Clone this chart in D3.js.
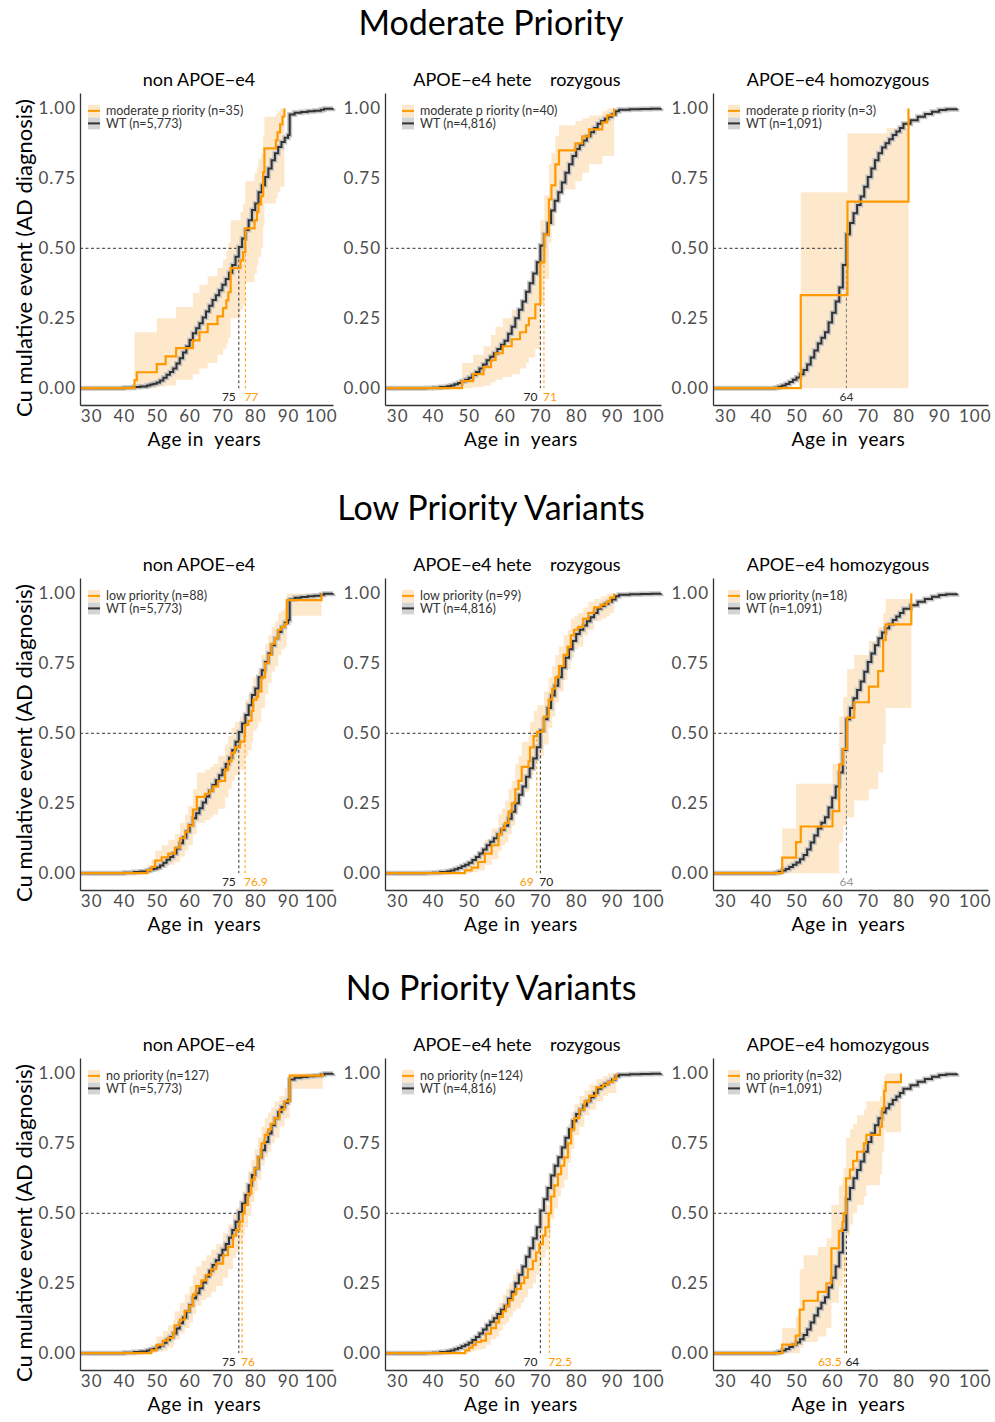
<!DOCTYPE html>
<html>
<head>
<meta charset="utf-8">
<script src="https://cdn.jsdelivr.net/npm/d3@7"></script>
<style>
  body { margin: 0; background: white; }
  svg { font-family: Lato, "Open Sans", sans-serif; }
</style>
</head>
<body>
<div id="chart"></div>
<script>
// ---- labels ----
const rowTitles = ["Moderate Priority", "Low Priority Variants", "No Priority Variants"];
const colTitles = ["non APOE\u2212e4", "APOE\u2212e4 hete\u00a0\u00a0\u00a0 rozygous", "APOE\u2212e4 homozygous"];
const variantNames = ["moderate p riority", "low priority", "no priority"];
const variantN = [[35, 40, 3], [88, 99, 18], [127, 124, 32]];
const wtN = ["5,773", "4,816", "1,091"];
const yTicks = [0, 0.25, 0.5, 0.75, 1];
const xTicks = [30, 40, 50, 60, 70, 80, 90, 100];
const xTitle = "Age in\u00a0 years";
const yTitle = "Cu mulative event (AD diagnosis)";

// medians [row][col]
const wtMedians = [[75, 70, 64], [75, 70, 64], [75, 70, 64]];
const varMedians = [[77, 71, 64], [76.9, 69, 64], [76, 72.5, 63.5]];

// ---- WT curves: [age, cumulative] ----
const wtNonE4 = [[40,0.002],[43,0.004],[45,0.006],[47,0.01],[48,0.013],[49,0.016],[50,0.02],[51,0.028],[52,0.037],[53,0.048],[54,0.058],[55,0.07],[56,0.088],[57,0.107],[58,0.128],[59,0.149],[60,0.172],[61,0.196],[62,0.214],[63,0.232],[64,0.253],[65,0.274],[66,0.295],[67,0.315],[68,0.332],[69,0.35],[70,0.37],[71,0.39],[72,0.413],[73,0.44],[74,0.47],[75,0.505],[76,0.535],[77,0.565],[78,0.6],[79,0.637],[80,0.66],[81,0.7],[82,0.725],[83,0.755],[84,0.785],[85,0.815],[86,0.84],[87,0.862],[88,0.88],[89,0.895],[90,0.905],[90.5,0.978],[92,0.984],[94,0.987],[96,0.99],[98,0.992],[100,0.995],[101,0.999],[103.7,1.0]];
const wtHet = [[38,0.001],[40,0.002],[42,0.004],[44,0.007],[45,0.01],[46,0.014],[47,0.019],[48,0.025],[49,0.03],[50,0.037],[51,0.047],[52,0.058],[53,0.07],[54,0.085],[55,0.1],[56,0.112],[57,0.125],[58,0.14],[59,0.155],[60,0.17],[61,0.195],[62,0.22],[63,0.25],[64,0.28],[65,0.31],[66,0.345],[67,0.375],[68,0.41],[69,0.45],[70,0.51],[71,0.55],[72,0.59],[73,0.635],[74,0.67],[75,0.7],[76,0.735],[77,0.77],[78,0.8],[79,0.83],[80,0.855],[81,0.87],[82,0.885],[83,0.9],[84,0.915],[85,0.93],[86,0.945],[87,0.955],[88,0.963],[89,0.97],[90,0.978],[91,0.99],[92,0.995],[95,0.997],[98,0.998],[101,0.999],[103.7,1.0]];
const wtHom = [[44,0.002],[45,0.005],[46,0.01],[47,0.015],[48,0.022],[49,0.03],[50,0.038],[51,0.05],[52,0.065],[53,0.085],[54,0.11],[55,0.135],[56,0.16],[57,0.18],[58,0.2],[59,0.235],[60,0.27],[61,0.31],[62,0.36],[63,0.44],[64,0.55],[65,0.59],[66,0.625],[67,0.655],[68,0.685],[69,0.72],[70,0.755],[71,0.785],[72,0.815],[73,0.84],[74,0.86],[75,0.875],[76,0.89],[77,0.905],[78,0.917],[79,0.93],[80,0.945],[82,0.958],[84,0.97],[86,0.98],[88,0.988],[90,0.994],[92,0.997],[95,1.0]];

// ---- variant curves: [age, estimate, lower, upper] ----
const modNon = [[43.2,0.029,0,0.2],[43.9,0.057,0,0.2],[50.0,0.086,0.005,0.25],[52.7,0.114,0.01,0.25],[55.9,0.143,0.03,0.29],[61.0,0.171,0.05,0.34],[63.0,0.2,0.07,0.37],[65.5,0.229,0.09,0.4],[68.5,0.257,0.12,0.43],[70.2,0.286,0.14,0.46],[71.2,0.314,0.16,0.49],[71.8,0.343,0.18,0.52],[72.5,0.429,0.25,0.6],[75.5,0.457,0.28,0.63],[76.3,0.486,0.3,0.66],[77.0,0.571,0.38,0.74],[79.8,0.6,0.41,0.77],[80.5,0.629,0.44,0.79],[81.0,0.657,0.47,0.82],[81.8,0.686,0.5,0.84],[82.4,0.771,0.58,0.9],[82.8,0.857,0.66,0.97],[86.3,0.886,0.68,0.98],[86.8,0.914,0.7,0.99],[87.6,0.943,0.72,1.0],[88.3,0.971,0.72,1.0],[88.9,1.0,1,1]];
const modHet = [[48.1,0.025,0,0.09],[51.2,0.05,0.003,0.12],[54.1,0.075,0.01,0.15],[56.2,0.1,0.02,0.19],[57.5,0.125,0.03,0.22],[59.5,0.15,0.04,0.25],[62.0,0.175,0.05,0.28],[64.3,0.2,0.07,0.31],[66.0,0.225,0.09,0.34],[66.8,0.25,0.11,0.37],[68.6,0.3,0.14,0.43],[70.0,0.45,0.3,0.6],[71.1,0.55,0.39,0.69],[72.4,0.675,0.52,0.8],[73.1,0.725,0.58,0.84],[74.2,0.8,0.66,0.9],[75.2,0.85,0.71,0.94],[79.8,0.875,0.74,0.955],[81.7,0.9,0.77,0.965],[83.6,0.925,0.8,0.975],[87.3,0.95,0.83,0.99],[88.7,0.975,0.83,1.0],[90.6,1.0,1,1]];
const modHom = [[51.2,0.333,0,0.7],[64.3,0.667,0,0.91],[75.3,0.667,0,0.93],[81.4,1.0,1,1]];
const lowNon = [[47.1,0.011,0,0.03],[48.4,0.023,0.005,0.05],[49.5,0.045,0.01,0.08],[51.5,0.057,0.02,0.1],[53.5,0.07,0.03,0.12],[55.5,0.091,0.04,0.14],[57.1,0.125,0.06,0.18],[58.6,0.148,0.08,0.21],[59.6,0.17,0.1,0.24],[61.0,0.227,0.14,0.3],[62.2,0.273,0.18,0.36],[64.7,0.284,0.19,0.37],[66.2,0.295,0.2,0.38],[67.2,0.31,0.21,0.39],[68.7,0.33,0.23,0.42],[70.8,0.37,0.27,0.46],[71.8,0.4,0.3,0.49],[72.8,0.43,0.33,0.52],[73.8,0.45,0.35,0.54],[75.4,0.47,0.37,0.56],[76.7,0.49,0.39,0.58],[76.9,0.53,0.42,0.62],[77.9,0.545,0.44,0.64],[78.9,0.58,0.47,0.67],[79.4,0.62,0.51,0.7],[80.4,0.63,0.52,0.71],[80.9,0.65,0.54,0.73],[81.9,0.7,0.59,0.78],[83.0,0.75,0.64,0.82],[84.0,0.78,0.68,0.85],[85.0,0.82,0.72,0.88],[86.0,0.84,0.74,0.9],[87.0,0.87,0.78,0.93],[88.0,0.88,0.8,0.94],[89.1,0.89,0.81,0.95],[89.6,0.976,0.92,1.0],[100.2,1.0,1,1]];
const lowHet = [[48.9,0.01,0,0.03],[50.8,0.02,0.003,0.05],[52.6,0.04,0.01,0.08],[54.5,0.07,0.03,0.12],[56.4,0.1,0.05,0.16],[58.3,0.14,0.08,0.21],[59.2,0.16,0.1,0.23],[60.1,0.18,0.11,0.26],[61.1,0.22,0.14,0.3],[62.0,0.25,0.17,0.33],[63.0,0.3,0.21,0.39],[63.9,0.33,0.24,0.42],[64.8,0.38,0.29,0.47],[66.7,0.4,0.3,0.49],[67.1,0.45,0.35,0.54],[68.1,0.49,0.39,0.58],[69.1,0.505,0.41,0.6],[70.5,0.51,0.42,0.6],[71.0,0.56,0.46,0.65],[72.3,0.62,0.52,0.7],[73.3,0.66,0.56,0.74],[74.2,0.7,0.61,0.78],[75.2,0.74,0.65,0.81],[76.5,0.78,0.69,0.85],[77.6,0.81,0.73,0.87],[78.5,0.85,0.77,0.91],[79.4,0.87,0.8,0.92],[80.5,0.88,0.81,0.93],[82.0,0.91,0.85,0.95],[83.4,0.93,0.87,0.97],[85.0,0.95,0.9,0.98],[87.0,0.96,0.91,0.99],[88.5,0.97,0.92,1.0],[89.5,0.985,0.93,1.0],[90.6,1.0,1,1]];
const lowHom = [[46.0,0.056,0,0.16],[49.9,0.111,0,0.32],[51.2,0.167,0,0.32],[60.1,0.222,0,0.39],[62.0,0.389,0.11,0.56],[63.1,0.444,0.17,0.63],[64.2,0.556,0.2,0.73],[66.2,0.611,0.26,0.78],[70.3,0.667,0.3,0.83],[72.9,0.722,0.36,0.88],[74.3,0.833,0.46,0.93],[75.0,0.889,0.59,0.98],[82.2,1.0,1,1]];
const noNon = [[48.3,0.01,0,0.03],[49.9,0.03,0.005,0.06],[51.9,0.045,0.01,0.08],[53.4,0.055,0.02,0.1],[55.0,0.07,0.03,0.12],[55.4,0.1,0.05,0.15],[57.0,0.12,0.07,0.18],[58.5,0.15,0.09,0.21],[60.0,0.17,0.11,0.24],[61.0,0.21,0.14,0.28],[62.0,0.24,0.17,0.31],[63.6,0.26,0.19,0.33],[65.1,0.28,0.2,0.35],[66.6,0.3,0.22,0.37],[68.1,0.32,0.24,0.39],[70.2,0.35,0.27,0.43],[71.7,0.38,0.3,0.46],[73.2,0.42,0.34,0.5],[74.2,0.44,0.36,0.52],[75.2,0.47,0.39,0.55],[76.2,0.5,0.42,0.58],[76.8,0.53,0.45,0.61],[77.8,0.57,0.49,0.65],[78.8,0.62,0.54,0.69],[79.8,0.66,0.58,0.73],[80.8,0.7,0.62,0.77],[81.9,0.75,0.67,0.81],[82.9,0.78,0.7,0.84],[83.9,0.8,0.72,0.86],[84.9,0.82,0.75,0.88],[85.9,0.84,0.77,0.9],[87.4,0.87,0.81,0.92],[88.9,0.9,0.84,0.95],[90.5,0.992,0.945,1.0],[100.6,1.0,1,1]];
const noHet = [[49.0,0.01,0,0.03],[50.1,0.02,0.003,0.045],[51.1,0.03,0.008,0.06],[52.0,0.04,0.012,0.07],[53.4,0.045,0.015,0.08],[54.8,0.07,0.03,0.11],[56.2,0.09,0.05,0.14],[57.6,0.11,0.06,0.16],[58.5,0.13,0.08,0.18],[59.5,0.15,0.1,0.21],[60.4,0.17,0.11,0.23],[61.3,0.19,0.13,0.25],[62.3,0.21,0.15,0.28],[63.2,0.23,0.16,0.3],[64.6,0.25,0.18,0.32],[65.5,0.27,0.2,0.34],[66.5,0.3,0.23,0.38],[67.9,0.33,0.25,0.41],[68.8,0.36,0.28,0.44],[69.7,0.39,0.31,0.47],[70.7,0.42,0.34,0.5],[71.4,0.45,0.37,0.53],[72.3,0.5,0.42,0.58],[73.0,0.56,0.48,0.64],[73.9,0.6,0.52,0.68],[74.9,0.64,0.56,0.71],[75.8,0.67,0.59,0.74],[76.7,0.7,0.62,0.77],[77.7,0.75,0.68,0.82],[78.6,0.8,0.73,0.86],[79.5,0.84,0.78,0.89],[80.9,0.87,0.81,0.92],[82.3,0.9,0.85,0.94],[83.7,0.92,0.87,0.96],[85.6,0.95,0.9,0.98],[87.5,0.96,0.92,0.99],[88.9,0.97,0.93,1.0],[90.3,0.98,0.93,1.0],[91.2,1.0,1,1]];
const noHom = [[46.0,0.031,0,0.09],[49.8,0.0625,0,0.13],[50.9,0.156,0.02,0.3],[52.0,0.1875,0.04,0.35],[56.0,0.219,0.06,0.38],[58.4,0.25,0.09,0.41],[59.8,0.375,0.18,0.53],[61.9,0.4375,0.24,0.6],[62.9,0.469,0.27,0.63],[63.2,0.5,0.3,0.66],[63.9,0.625,0.42,0.77],[65.0,0.656,0.46,0.8],[65.9,0.6875,0.5,0.82],[67.0,0.72,0.53,0.85],[68.9,0.75,0.56,0.87],[69.6,0.78,0.6,0.9],[73.4,0.81,0.64,0.92],[74.0,0.875,0.72,0.96],[74.6,0.9375,0.8,0.99],[75.0,0.969,0.79,1.0],[79.3,1.0,1,1]];

const wtCurves = [wtNonE4, wtHet, wtHom];
const variantCurves = [[modNon, modHet, modHom], [lowNon, lowHet, lowHom], [noNon, noHet, noHom]];

// ---- layout / style ----
const width = 995, height = 1422;
const orange = "#ff9900", ribbon = "#fee8cc", dark = "#333333";
const colX = [[80, 333], [385, 661], [713, 988]];
const titleX = [199, 517, 838];
const legendDx = [8, 17, 15];
const rowOffset = [0, 485, 965];
const tieColor = ["#333", "#999", "#333"];
const ageDomain = [26.6, 103.7];

const svg = d3.select("#chart").append("svg")
  .attr("width", width).attr("height", height)
  .style("background", "white");

rowTitles.forEach((t, r) => {
  svg.append("text")
    .attr("x", 491).attr("y", 35 + rowOffset[r])
    .attr("text-anchor", "middle")
    .style("font-size", "34px")
    .text(t);
});

for (let r = 0; r < 3; r++) {
  for (let c = 0; c < 3; c++) {
    drawPanel(r, c);
  }
}

function drawPanel(r, c) {
  const off = rowOffset[r];
  const x = d3.scaleLinear().domain(ageDomain).range(colX[c]);
  const y = d3.scaleLinear().domain([-0.06, 1.055]).range([405 + off, 93 + off]);
  const g = svg.append("g");

  const stepLine = d3.line().curve(d3.curveStepAfter)
    .x(d => x(d[0])).y(d => y(d[1]));
  const band = d3.area().curve(d3.curveStepAfter)
    .x(d => x(d[0])).y0(d => y(d[2])).y1(d => y(d[3]));

  const variant = variantCurves[r][c];
  const wt = wtCurves[c];

  // confidence ribbon
  g.append("path").datum(variant)
    .attr("d", band)
    .attr("fill", ribbon);

  // median guides
  const wm = wtMedians[r][c], vm = varMedians[r][c];
  const dash = "3,2.5";
  g.append("line")
    .attr("x1", x.range()[0]).attr("x2", x(Math.max(wm, vm)))
    .attr("y1", y(0.5)).attr("y2", y(0.5))
    .attr("stroke", dark).attr("stroke-dasharray", dash).attr("stroke-width", 1);

  const labY = y(0) + 12.5;
  if (wm === vm) {
    g.append("line")
      .attr("x1", x(wm)).attr("x2", x(wm)).attr("y1", y(0.5)).attr("y2", y(0))
      .attr("stroke", "#777").attr("stroke-dasharray", dash);
    g.append("text").attr("x", x(wm)).attr("y", labY)
      .attr("text-anchor", "middle").style("font-size", "12px")
      .attr("fill", tieColor[r]).text(wm);
  } else {
    const marks = [{ v: wm, col: dark }, { v: vm, col: orange }].sort((a, b) => a.v - b.v);
    marks.forEach((m, i) => {
      g.append("line")
        .attr("x1", x(m.v)).attr("x2", x(m.v)).attr("y1", y(0.5)).attr("y2", y(0))
        .attr("stroke", m.col).attr("stroke-dasharray", dash);
      g.append("text")
        .attr("x", i === 0 ? x(m.v) - 3 : x(m.v) - 1).attr("y", labY)
        .attr("text-anchor", i === 0 ? "end" : "start")
        .style("font-size", "12px")
        .attr("fill", m.col === dark ? "#222" : orange)
        .text(m.v);
    });
  }

  // WT curve with its narrow grey band
  const wtPts = [[ageDomain[0], 0]].concat(wt);
  g.append("path").datum(wtPts).attr("d", stepLine)
    .attr("fill", "none").attr("stroke", "#c4c4c4").attr("stroke-width", 5);
  g.append("path").datum(wtPts).attr("d", stepLine)
    .attr("fill", "none").attr("stroke", dark).attr("stroke-width", 2);

  // variant curve
  const varPts = [[ageDomain[0], 0]].concat(variant.map(d => [d[0], d[1]]));
  g.append("path").datum(varPts).attr("d", stepLine)
    .attr("fill", "none").attr("stroke", orange).attr("stroke-width", 2.2);

  // axes
  const yAxis = g.append("g")
    .attr("transform", `translate(${colX[c][0]},0)`)
    .call(d3.axisLeft(y).tickValues(yTicks).tickFormat(d3.format(".2f")).tickSize(0).tickPadding(4));
  const xAxis = g.append("g")
    .attr("transform", `translate(0,${405 + off})`)
    .call(d3.axisBottom(x).tickValues(xTicks).tickSize(0).tickPadding(5));
  [yAxis, xAxis].forEach(a => {
    a.select(".domain").attr("stroke", dark).attr("stroke-width", 1.3);
    a.selectAll("text").attr("fill", "#4d4d4d").style("font-size", "17px")
      .style("letter-spacing", "1px")
      .style("font-family", "Lato, 'Open Sans', sans-serif");
  });

  // titles
  g.append("text")
    .attr("x", titleX[c]).attr("y", 86 + off)
    .attr("text-anchor", "middle").style("font-size", "18px")
    .text(colTitles[c]);
  g.append("text")
    .attr("x", (colX[c][0] + colX[c][1]) / 2 - 2).attr("y", 446 + off)
    .attr("text-anchor", "middle").style("font-size", "19px")
    .style("letter-spacing", "0.6px")
    .text(xTitle);
  if (c === 0) {
    g.append("text")
      .attr("transform", `translate(32,${258 + off}) rotate(-90)`)
      .attr("text-anchor", "middle").style("font-size", "22px")
      .text(yTitle);
  }

  // legend
  const lx = colX[c][0] + legendDx[c];
  const items = [
    { label: `${variantNames[r]} (n=${variantN[r][c]})`, fill: ribbon, line: orange },
    { label: `WT (n=${wtN[c]})`, fill: "#d4d4d4", line: dark }
  ];
  items.forEach((it, i) => {
    const cy = y(1) + 2.5 + i * 12.5;
    g.append("rect").attr("x", lx).attr("y", cy - 6).attr("width", 12).attr("height", 12)
      .attr("fill", it.fill);
    g.append("line").attr("x1", lx).attr("x2", lx + 12).attr("y1", cy).attr("y2", cy)
      .attr("stroke", it.line).attr("stroke-width", 2);
    g.append("text").attr("x", lx + 18).attr("y", cy).attr("dy", "0.35em")
      .style("font-size", "12.5px").attr("fill", "#333").text(it.label);
  });
}
</script>
</body>
</html>
